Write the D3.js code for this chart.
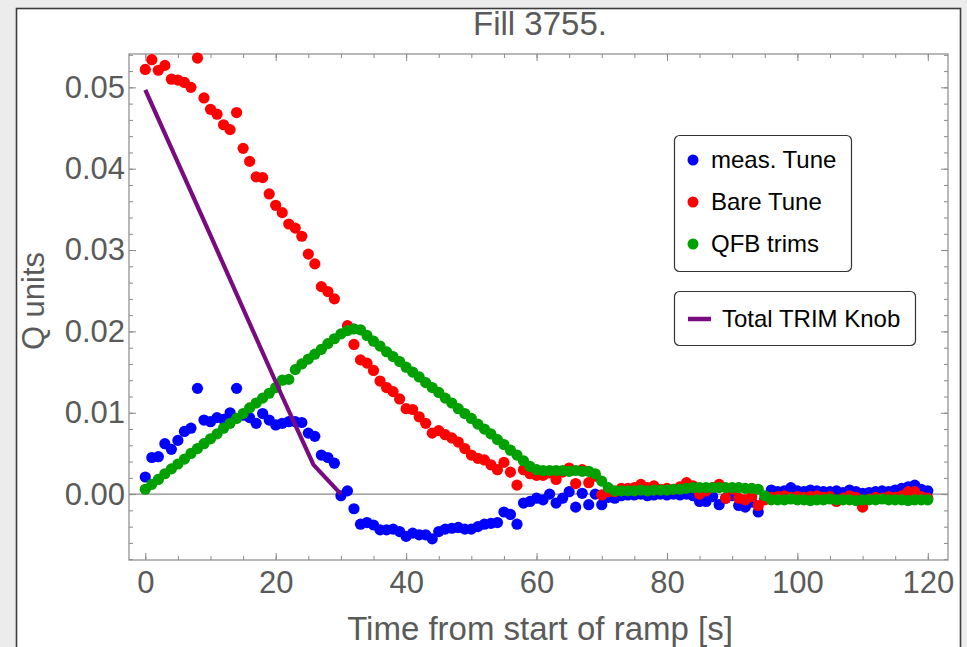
<!DOCTYPE html>
<html>
<head>
<meta charset="utf-8">
<script src="https://cdn.jsdelivr.net/npm/d3@7"></script>
<style>
html,body{margin:0;padding:0;background:#ececec;}
svg{display:block;}
</style>
</head>
<body>
<svg id="chart" width="967" height="647"></svg>
<script>
// ---------------- data ----------------
const titleText = "Fill 3755.";
const xLabel = "Time from start of ramp [s]";
const yLabel = "Q units";
const xTickValues = [0, 20, 40, 60, 80, 100, 120];
const yTickValues = [0.00, 0.01, 0.02, 0.03, 0.04, 0.05];

// time axis (seconds) shared by the three point series
const times = d3.range(0, 121);

const measTune = [
 0.0021,0.0045,0.0046,0.0062,0.0055,0.0066,0.0077,0.0081,0.0130,0.0091,
 0.0089,0.0094,0.0092,0.0100,0.0130,0.0097,0.0094,0.0087,0.0099,0.0091,
 0.0085,0.0087,0.0089,0.0089,0.0088,0.0075,0.0071,0.0048,0.0045,0.0038,
 -0.0002,0.0004,-0.0018,-0.0037,-0.0035,-0.0038,-0.0044,-0.0044,-0.0043,-0.0046,
 -0.0052,-0.0048,-0.0050,-0.0050,-0.0055,-0.0046,-0.0043,-0.0042,-0.0041,-0.0043,
 -0.0043,-0.0040,-0.0037,-0.0036,-0.0035,-0.0022,-0.0025,-0.0037,-0.0011,-0.0009,
 -0.0005,-0.0007,0.0000,-0.0011,-0.0005,0.0003,-0.0016,0.0001,-0.0013,0.0000,
 -0.0013,-0.0004,-0.0005,-0.0002,-0.0001,-0.0001,0.0000,-0.0002,-0.0001,0.0000,
 -0.0001,0.0000,-0.0001,0.0000,-0.0002,-0.0009,-0.0009,-0.0003,-0.0013,-0.0005,
 -0.0002,-0.0014,-0.0016,-0.0010,-0.0022,-0.0006,0.0005,0.0003,0.0004,0.0008,
 0.0004,0.0003,0.0005,0.0004,0.0003,0.0003,0.0004,0.0002,0.0005,0.0003,
 0.0001,0.0002,0.0003,0.0004,0.0003,0.0005,0.0007,0.0009,0.0011,0.0006,
 0.0004
];

const bareTune = [
 0.0522,0.0534,0.0521,0.0527,0.0510,0.0509,0.0506,0.0500,0.0536,0.0487,
 0.0473,0.0467,0.0454,0.0448,0.0469,0.0425,0.0409,0.0390,0.0389,0.0369,
 0.0355,0.0346,0.0332,0.0327,0.0317,0.0295,0.0283,0.0255,0.0249,0.0240,
 null,0.0207,0.0184,0.0165,0.0161,0.0152,0.0139,0.0131,0.0126,0.0117,
 0.0105,0.0104,0.0095,0.0087,0.0075,0.0078,0.0073,0.0069,0.0064,0.0056,
 0.0048,0.0044,0.0042,0.0036,0.0030,0.0039,0.0027,0.0011,0.0030,0.0025,
 0.0023,0.0023,0.0026,0.0018,0.0027,0.0032,0.0013,0.0030,0.0014,0.0022,
 -0.0001,0.0003,0.0003,0.0007,0.0007,0.0008,0.0012,0.0008,0.0010,0.0006,
 0.0007,0.0006,0.0009,0.0014,0.0010,0.0000,0.0004,0.0008,0.0012,-0.0005,
 0.0006,-0.0005,-0.0007,-0.0003,-0.0014,-0.0007,-0.0004,-0.0003,-0.0002,-0.0004,
 -0.0003,-0.0004,-0.0003,-0.0002,-0.0004,-0.0003,-0.0009,-0.0005,-0.0002,-0.0004,
 -0.0016,-0.0006,-0.0004,-0.0005,-0.0003,-0.0004,-0.0002,0.0003,0.0003,-0.0003,
 -0.0005
];

const qfbTrims = [
 0.0006,0.0012,0.0018,0.0025,0.0031,0.0037,0.0043,0.0050,0.0056,0.0062,
 0.0068,0.0074,0.0081,0.0087,0.0093,0.0099,0.0106,0.0112,0.0118,0.0124,
 0.0131,0.0140,0.0141,0.0153,0.0160,0.0166,0.0172,0.0178,0.0185,0.0191,
 0.0197,0.0201,0.0203,0.0202,0.0195,0.0188,0.0182,0.0175,0.0169,0.0163,
 0.0156,0.0150,0.0144,0.0137,0.0131,0.0125,0.0118,0.0112,0.0105,0.0099,
 0.0093,0.0086,0.0080,0.0074,0.0067,0.0061,0.0054,0.0048,0.0041,0.0034,
 0.0030,0.0029,0.0029,0.0029,0.0029,0.0028,0.0029,0.0028,0.0028,0.0025,
 0.0016,0.0008,0.0004,0.0004,0.0004,0.0004,0.0005,0.0004,0.0005,0.0005,
 0.0005,0.0006,0.0006,0.0007,0.0008,0.0008,0.0008,0.0008,0.0008,0.0008,
 0.0008,0.0008,0.0007,0.0007,0.0006,-0.0002,-0.0007,-0.0007,-0.0007,-0.0006,
 -0.0007,-0.0007,-0.0008,-0.0007,-0.0007,-0.0006,-0.0007,-0.0007,-0.0007,-0.0008,
 -0.0007,-0.0007,-0.0007,-0.0006,-0.0007,-0.0007,-0.0007,-0.0008,-0.0007,-0.0007,
 -0.0007
];

// Total TRIM Knob polyline
const knobTimes = [0, 10, 21, 25.8, 30];
const knobValues = [0.0497, 0.0318, 0.0120, 0.0036, 0.0000];

const seriesNames = ["meas. Tune", "Bare Tune", "QFB trims"];
const seriesColors = ["#0000ff", "#ff0000", "#00a000"];
const knobName = "Total TRIM Knob";
const knobColor = "#7a0a7f";

// ---------------- drawing ----------------
const svg = d3.select("#chart");
const W = 967, H = 647;
const plot = {left: 129, right: 948, top: 54, bottom: 560};

const x = d3.scaleLinear().domain([-2.5, 123.1]).range([plot.left, plot.right]);
const y = d3.scaleLinear().domain([-0.0081, 0.0541]).range([plot.bottom, plot.top]);

// outer window panel
svg.append("rect").attr("x", 0).attr("y", 0).attr("width", W).attr("height", H).attr("fill", "#ececec");
svg.append("rect").attr("x", 16.5).attr("y", 8.5).attr("width", 944).attr("height", 660)
  .attr("fill", "#ffffff").attr("stroke", "#3c3c3c").attr("stroke-width", 1.6);

const fontFam = "'Liberation Sans', Arial, Helvetica, sans-serif";
const labelColor = "#5a5a5a";

// title
svg.append("text").attr("x", 540).attr("y", 35).attr("text-anchor", "middle")
  .attr("font-family", fontFam).attr("font-size", 33).attr("fill", labelColor).text(titleText);

// zero line
svg.append("line").attr("x1", plot.left).attr("x2", plot.right)
  .attr("y1", y(0)).attr("y2", y(0)).attr("stroke", "#8a8a8a").attr("stroke-width", 1.2);

// axes with inward ticks
const tickColor = "#8a8a8a";
function styleAxis(g) {
  g.select(".domain").remove();
  g.selectAll(".tick line").attr("stroke", tickColor).attr("stroke-width", 1);
  g.selectAll(".tick text").remove();
}
const xMinor = d3.range(0, 121, 5);
const yMinor = d3.range(-8, 55, 2).map(v => v / 1000);

// bottom
svg.append("g").attr("transform", `translate(0,${plot.bottom})`)
  .call(d3.axisTop(x).tickValues(xMinor).tickSize(4)).call(styleAxis);
svg.append("g").attr("transform", `translate(0,${plot.bottom})`)
  .call(d3.axisTop(x).tickValues(xTickValues).tickSize(7)).call(styleAxis);
// top
svg.append("g").attr("transform", `translate(0,${plot.top})`)
  .call(d3.axisBottom(x).tickValues(xMinor).tickSize(4)).call(styleAxis);
svg.append("g").attr("transform", `translate(0,${plot.top})`)
  .call(d3.axisBottom(x).tickValues(xTickValues).tickSize(7)).call(styleAxis);
// left
svg.append("g").attr("transform", `translate(${plot.left},0)`)
  .call(d3.axisRight(y).tickValues(yMinor).tickSize(4)).call(styleAxis);
svg.append("g").attr("transform", `translate(${plot.left},0)`)
  .call(d3.axisRight(y).tickValues(yTickValues).tickSize(7)).call(styleAxis);
// right
svg.append("g").attr("transform", `translate(${plot.right},0)`)
  .call(d3.axisLeft(y).tickValues(yMinor).tickSize(4)).call(styleAxis);
svg.append("g").attr("transform", `translate(${plot.right},0)`)
  .call(d3.axisLeft(y).tickValues(yTickValues).tickSize(7)).call(styleAxis);

// frame
svg.append("rect").attr("x", plot.left).attr("y", plot.top)
  .attr("width", plot.right - plot.left).attr("height", plot.bottom - plot.top)
  .attr("fill", "none").attr("stroke", "#8a8a8a").attr("stroke-width", 1.2);

// tick labels
const xl = svg.append("g").attr("transform", `translate(0,${plot.bottom})`)
  .call(d3.axisBottom(x).tickValues(xTickValues).tickSize(0).tickPadding(11).tickFormat(d3.format("d")));
xl.select(".domain").remove();
xl.selectAll("text").attr("font-family", fontFam).attr("font-size", 31).attr("fill", labelColor);

const yl = svg.append("g").attr("transform", `translate(${plot.left},0)`)
  .call(d3.axisLeft(y).tickValues(yTickValues).tickSize(0).tickPadding(4).tickFormat(d3.format(".2f")));
yl.select(".domain").remove();
yl.selectAll("text").attr("font-family", fontFam).attr("font-size", 31).attr("fill", labelColor);

// axis titles
svg.append("text").attr("x", 540).attr("y", 640).attr("text-anchor", "middle")
  .attr("font-family", fontFam).attr("font-size", 33).attr("fill", labelColor).text(xLabel);
svg.append("text").attr("transform", "translate(44,301) rotate(-90)").attr("text-anchor", "middle")
  .attr("font-family", fontFam).attr("font-size", 31).attr("fill", labelColor).text(yLabel);

// point series
const allSeries = [measTune, bareTune, qfbTrims];
allSeries.forEach((vals, i) => {
  const pts = times.map((t, k) => ({t, v: vals[k]})).filter(d => d.v !== null);
  svg.append("g").selectAll("circle").data(pts).join("circle")
    .attr("cx", d => x(d.t)).attr("cy", d => y(d.v)).attr("r", 5.6)
    .attr("fill", seriesColors[i]);
});

// knob line
const knobPts = knobTimes.map((t, k) => ({t, v: knobValues[k]}));
svg.append("path").datum(knobPts)
  .attr("d", d3.line().x(d => x(d.t)).y(d => y(d.v)))
  .attr("fill", "none").attr("stroke", knobColor).attr("stroke-width", 4.2)
  .attr("stroke-linejoin", "round");

// legends
const lg1 = svg.append("g");
lg1.append("rect").attr("x", 674.5).attr("y", 135.5).attr("width", 177).attr("height", 136)
  .attr("rx", 5).attr("fill", "#fff").attr("stroke", "#333").attr("stroke-width", 1.2);
seriesNames.forEach((name, i) => {
  const cy = 160 + i * 42;
  lg1.append("circle").attr("cx", 693).attr("cy", cy).attr("r", 5.5).attr("fill", seriesColors[i]);
  lg1.append("text").attr("x", 711).attr("y", cy + 8).attr("font-family", fontFam)
    .attr("font-size", 24).attr("fill", "#000").text(name);
});
const lg2 = svg.append("g");
lg2.append("rect").attr("x", 674.5).attr("y", 291.5).attr("width", 241).attr("height", 54)
  .attr("rx", 5).attr("fill", "#fff").attr("stroke", "#333").attr("stroke-width", 1.2);
lg2.append("line").attr("x1", 688).attr("x2", 711).attr("y1", 319).attr("y2", 319)
  .attr("stroke", knobColor).attr("stroke-width", 4.5);
lg2.append("text").attr("x", 722).attr("y", 327).attr("font-family", fontFam)
  .attr("font-size", 24).attr("fill", "#000").text(knobName);
</script>
</body>
</html>
